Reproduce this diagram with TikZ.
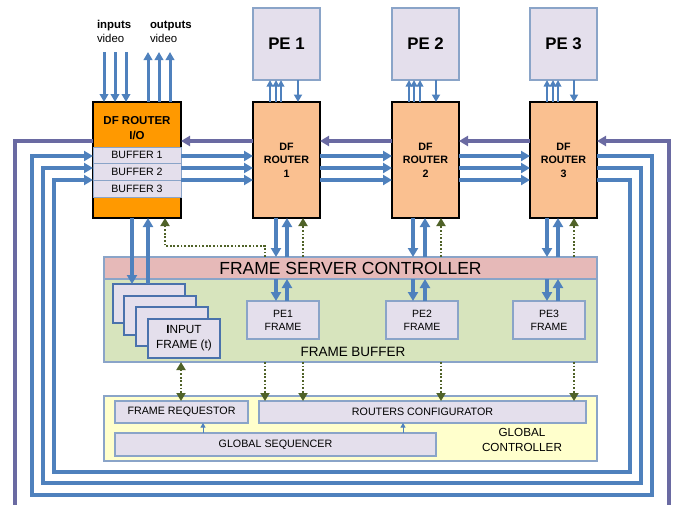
\documentclass[tikz,border=0pt]{standalone}
\usepackage{fontspec}
\setmainfont{Liberation Sans}
\usetikzlibrary{arrows.meta,calc}
\definecolor{lineblue}{HTML}{4F81BD}
\definecolor{ringpurple}{HTML}{6A6AA2}
\definecolor{dotgreen}{HTML}{4F6228}
\definecolor{lav}{HTML}{E4DFEC}
\definecolor{bord}{HTML}{8AA4C8}
\definecolor{frbord}{HTML}{4A72AC}
\definecolor{ioorange}{HTML}{FF9900}
\definecolor{rorange}{HTML}{FAC090}
\definecolor{fscpink}{HTML}{E6B9B8}
\definecolor{fbgreen}{HTML}{D7E4BD}
\definecolor{gcyellow}{HTML}{FFFFCC}
\begin{document}
\begin{tikzpicture}[x=1pt,y=-1pt,
  nw/.style={inner sep=0pt,outer sep=0pt,anchor=north west,align=center},
  lbox/.style={nw,draw=bord,line width=1.3pt,fill=lav},
  area/.style={nw,draw=bord,line width=1.5pt},
  rbox/.style={nw,draw=black,line width=2.2pt,fill=rorange,
    font=\bfseries\fontsize{10.7}{13.5}\selectfont,minimum width=67pt,minimum height=116pt},
  pebox/.style={lbox,font=\bfseries\fontsize{16.8}{20}\selectfont,minimum width=67pt,minimum height=72pt},
  bufbox/.style={nw,draw=bord,line width=1pt,fill=lav,font=\fontsize{10.6}{12}\selectfont,minimum width=88pt},
  pfbox/.style={lbox,font=\fontsize{10.5}{13}\selectfont,minimum width=72pt,minimum height=38pt},
  infr/.style={nw,draw=frbord,line width=1.2pt,fill=lav,minimum width=72pt,minimum height=39pt},
  gcbox/.style={lbox,font=\fontsize{10.7}{13}\selectfont,minimum height=22pt},
  txt/.style={inner sep=0pt,outer sep=0pt},
  bl/.style={draw=lineblue,line width=3.2pt,-{Triangle[length=9pt,width=10pt]}},
  bls/.style={draw=lineblue,line width=2.4pt,-{Triangle[length=6.5pt,width=6.5pt]}},
  blt/.style={draw=lineblue,line width=1pt,-{Triangle[length=4.5pt,width=5pt]}},
  pl/.style={draw=ringpurple,line width=3.2pt,-{Triangle[length=9pt,width=10pt]}},
  gd/.style={draw=dotgreen,line width=1.8pt,dash pattern=on 1.8pt off 1.8pt,-{Triangle[length=8pt,width=9pt]}},
  gdd/.style={draw=dotgreen,line width=1.8pt,dash pattern=on 1.8pt off 1.8pt,{Triangle[length=8pt,width=9pt]}-{Triangle[length=8pt,width=9pt]}},
]
\useasboundingbox (0,0) rectangle (682,504);

% ---------- top labels ----------
\node[txt,anchor=base west,font=\bfseries\fontsize{11.4}{13}\selectfont] (inlbl) at (97,28) {inputs};
\node[txt,anchor=base west,font=\fontsize{11.4}{13}\selectfont] (invid) at (97,42) {video};
\node[txt,anchor=base west,font=\bfseries\fontsize{11.4}{13}\selectfont] (outlbl) at (150,28) {outputs};
\node[txt,anchor=base west,font=\fontsize{11.4}{13}\selectfont] (outvid) at (150,42) {video};

% ---------- PEs ----------
\node[pebox] (pe1) at (253,8) {PE 1};
\node[pebox] (pe2) at (392,8) {PE 2};
\node[pebox] (pe3) at (530,8) {PE 3};

% ---------- routers ----------
\node[nw,draw=black,line width=2.2pt,fill=ioorange,minimum width=88pt,minimum height=116pt] (io) at (93,102) {};
\node[txt,align=center,font=\bfseries\fontsize{11.5}{15}\selectfont] (iolbl) at (137,128) {DF ROUTER\\I/O};
\node[bufbox,minimum height=16pt] (b1) at (93,147) {BUFFER 1};
\node[bufbox,minimum height=17pt] (b2) at (93,163) {BUFFER 2};
\node[bufbox,minimum height=17pt] (b3) at (93,180) {BUFFER 3};
\node[rbox] (r1) at (253,102) {DF\\ROUTER\\1};
\node[rbox] (r2) at (392,102) {DF\\ROUTER\\2};
\node[rbox] (r3) at (530,102) {DF\\ROUTER\\3};

% ---------- frame server / buffer ----------
\node[area,fill=fbgreen,minimum width=493pt,minimum height=83pt] (fb) at (104,279) {};
\node[area,fill=fscpink,minimum width=493pt,minimum height=22pt,font=\fontsize{17.5}{20}\selectfont] (fsc) at (104,257) {FRAME SERVER CONTROLLER};
\node[txt,font=\fontsize{13.5}{15}\selectfont] (fblbl) at (353,352) {FRAME BUFFER};
\node[infr] (f1) at (113,284) {};
\node[infr] (f2) at (124,296) {};
\node[infr] (f3) at (136,307) {};
\node[infr,align=center,font=\fontsize{11.8}{15}\selectfont] (f4) at (148,319) {\textbf{I}NPUT\\FRAME (t)};
\node[pfbox] (pf1) at (247,301) {PE1\\FRAME};
\node[pfbox] (pf2) at (386,301) {PE2\\FRAME};
\node[pfbox] (pf3) at (513,301) {PE3\\FRAME};

% ---------- global controller ----------
\node[area,fill=gcyellow,minimum width=493pt,minimum height=65pt] (gc) at (104,396) {};
\node[gcbox,minimum width=133pt] (fr) at (115,401) {FRAME REQUESTOR};
\node[gcbox,minimum width=327pt] (rc) at (259,401) {ROUTERS CONFIGURATOR};
\node[gcbox,minimum width=321pt,minimum height=23pt] (gs) at (115,433) {GLOBAL SEQUENCER};
\node[txt,align=center,font=\fontsize{11.7}{15}\selectfont] (gclbl) at (522,440) {GLOBAL\\CONTROLLER};

% ---------- video in/out ----------
\coordinate (in1) at (104,52); \coordinate (in2) at (115,52); \coordinate (in3) at (126,52);
\coordinate (out1) at (148,52); \coordinate (out2) at (159,52); \coordinate (out3) at (170,52);
\foreach \c in {in1,in2,in3}{\draw[bl,line width=3pt,-{Triangle[length=8pt,width=8.5pt]}] (\c) -- (io.north -| \c);}
\foreach \c in {out1,out2,out3}{\draw[bl,line width=3pt,-{Triangle[length=8pt,width=8.5pt]}] (io.north -| \c) -- (\c);}

% ---------- router <-> PE ----------
\foreach \r/\a/\b/\c/\d in {1/270/276/281/298, 2/409/414/420/436, 3/547/553/558/574}{
  \draw[bls] (r\r.north -| \a,0) -- (pe\r.south -| \a,0);
  \draw[bls] (r\r.north -| \b,0) -- (pe\r.south -| \b,0);
  \draw[bls] (r\r.north -| \c,0) -- (pe\r.south -| \c,0);
  \draw[bls,line width=2.6pt,-{Triangle[length=7.5pt,width=8pt]}] (pe\r.south -| \d,0) -- (r\r.north -| \d,0);
}

% ---------- forward lanes ----------
\foreach \y in {156,168,180}{
  \draw[bl] (io.east |- 0,\y) -- (r1.west |- 0,\y);
  \draw[bl] (r1.east |- 0,\y) -- (r2.west |- 0,\y);
  \draw[bl] (r2.east |- 0,\y) -- (r3.west |- 0,\y);
}
\draw[bl] (r3.east |- 0,156) -- (652,156) -- (652,495) -- (32,495) -- (32,156) -- (io.west |- 0,156);
\draw[bl] (r3.east |- 0,168) -- (641,168) -- (641,483) -- (43,483) -- (43,168) -- (io.west |- 0,168);
\draw[bl] (r3.east |- 0,180) -- (630,180) -- (630,472) -- (54,472) -- (54,180) -- (io.west |- 0,180);

% ---------- backward ring ----------
\draw[pl] (669,510) -- (669,141) -- (r3.east |- 0,141);
\draw[pl] (r3.west |- 0,141) -- (r2.east |- 0,141);
\draw[pl] (r2.west |- 0,141) -- (r1.east |- 0,141);
\draw[pl] (r1.west |- 0,141) -- (io.east |- 0,141);
\draw[draw=ringpurple,line width=3.2pt] (io.west |- 0,141) -- (15,141) -- (15,510);

% ---------- routers <-> frame server ----------
\draw[bl] (io.south -| 132,0) -- (f1.north -| 132,0);
\draw[bl] (f1.north -| 148,0) -- (io.south -| 148,0);
\draw[gd] (fsc.north -| 265,0) -- (265,246) -- (165,246) -- (io.south -| 165,0);
\foreach \r/\a/\b/\c in {1/276/287/303, 2/413/425/441, 3/547/558/574}{
  \draw[bl] (r\r.south -| \a,0) -- (fsc.north -| \a,0);
  \draw[bl] (fsc.north -| \b,0) -- (r\r.south -| \b,0);
  \draw[gd] (fsc.north -| \c,0) -- (r\r.south -| \c,0);
  \draw[bl] (fsc.south -| \a,0) -- (pf\r.north -| \a,0);
  \draw[bl] (pf\r.north -| \b,0) -- (fsc.south -| \b,0);
}

% ---------- frame buffer <-> global controller ----------
\draw[gdd] (fb.south -| 181,0) -- (fr.north -| 181,0);
\foreach \x in {265,303,441,574}{
  \draw[gd] (fb.south -| \x,0) -- (rc.north -| \x,0);
}
\draw[blt] (gs.north -| 203,0) -- (fr.south -| 203,0);
\draw[blt] (gs.north -| 403,0) -- (rc.south -| 403,0);
\end{tikzpicture}
\end{document}
